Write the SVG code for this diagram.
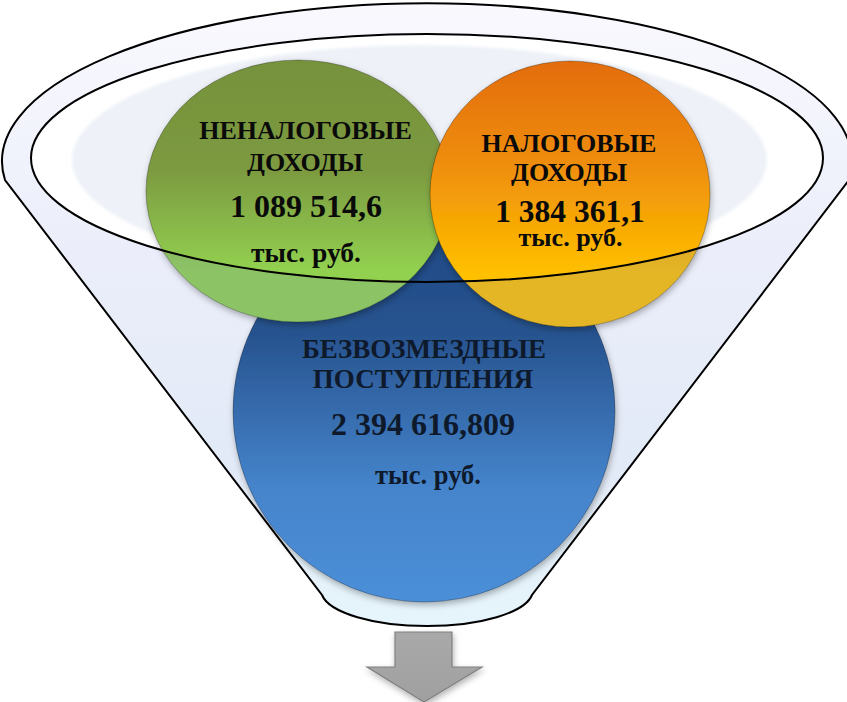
<svg xmlns="http://www.w3.org/2000/svg" width="847" height="702" viewBox="0 0 847 702">
  <style>
    .lbl { font-family: "Liberation Serif", "Times New Roman", serif; font-weight: bold; text-anchor: middle; fill: #0a0a0a; }
    .blbl { fill: #0e1a2b; }
    .rim { fill: none; stroke: #000; stroke-width: 2; }
    .circ { stroke: rgba(0,0,0,0.28); stroke-width: 1; }
  </style>
  <defs>
    <linearGradient id="gFunnel" x1="0" y1="0" x2="0" y2="1">
      <stop offset="0" stop-color="#f9f9fe"/>
      <stop offset="0.4" stop-color="#ebeefa"/>
      <stop offset="0.75" stop-color="#e2eaf7"/>
      <stop offset="1" stop-color="#e6f5fc"/>
    </linearGradient>
    <linearGradient id="gGreen" x1="0" y1="0" x2="0" y2="1">
      <stop offset="0" stop-color="#76923c"/>
      <stop offset="0.42" stop-color="#7c9a40"/>
      <stop offset="0.8" stop-color="#92d050"/>
      <stop offset="1" stop-color="#92d050"/>
    </linearGradient>
    <linearGradient id="gOrange" x1="0" y1="0" x2="0" y2="1">
      <stop offset="0" stop-color="#e36c0a"/>
      <stop offset="0.4" stop-color="#ef8f0b"/>
      <stop offset="0.8" stop-color="#ffc000"/>
      <stop offset="1" stop-color="#ffc000"/>
    </linearGradient>
    <linearGradient id="gBlue" x1="0" y1="0" x2="0" y2="1">
      <stop offset="0" stop-color="#1f4a85"/>
      <stop offset="0.3" stop-color="#27538f"/>
      <stop offset="0.7" stop-color="#4584cb"/>
      <stop offset="1" stop-color="#4b8fd8"/>
    </linearGradient>
    <linearGradient id="gArrow" x1="0" y1="0" x2="0" y2="1">
      <stop offset="0" stop-color="#a9a9a9"/>
      <stop offset="1" stop-color="#a0a0a0"/>
    </linearGradient>
    <filter id="shadow" x="-10%" y="-10%" width="120%" height="125%">
      <feDropShadow dx="1" dy="3" stdDeviation="3" flood-color="#000" flood-opacity="0.3"/>
    </filter>
    <filter id="soft" x="-5%" y="-5%" width="110%" height="110%">
      <feGaussianBlur stdDeviation="1.5"/>
    </filter>
    <clipPath id="clipTop">
      <ellipse cx="298" cy="191" rx="152" ry="131"/>
      <ellipse cx="570" cy="194" rx="140" ry="133"/>
    </clipPath>
  </defs>

  <g id="funnel">
    <path d="M 5,180 A 425 158 0 1 1 849,180 L 532,595 A 106 36 0 0 1 322,595 Z" fill="url(#gFunnel)" stroke="#000" stroke-width="2"/>
    <ellipse cx="427" cy="158" rx="396" ry="124" fill="#ffffff"/>
    <ellipse cx="419.5" cy="160" rx="347.5" ry="115" fill="#eef2f8" filter="url(#soft)"/>
  </g>

  <g id="grants">
    <circle cx="424" cy="411" r="191" fill="url(#gBlue)" class="circ" filter="url(#shadow)"/>
    <text class="lbl blbl" x="424" y="358" font-size="27">БЕЗВОЗМЕЗДНЫЕ</text>
    <text class="lbl blbl" x="423" y="388" font-size="27">ПОСТУПЛЕНИЯ</text>
    <text class="lbl blbl" x="423" y="435" font-size="32">2 394 616,809</text>
    <text class="lbl blbl" x="428" y="484" font-size="26.5">тыс. руб.</text>
  </g>

  <g id="nontax">
    <ellipse cx="298" cy="191" rx="152" ry="131" fill="url(#gGreen)" class="circ" filter="url(#shadow)"/>
    <text class="lbl" x="305.5" y="139" font-size="26">НЕНАЛОГОВЫЕ</text>
    <text class="lbl" x="305" y="171" font-size="26">ДОХОДЫ</text>
    <text class="lbl" x="306" y="217" font-size="32">1 089 514,6</text>
    <text class="lbl" x="306" y="262" font-size="27.5">тыс. руб.</text>
  </g>

  <g id="tax">
    <ellipse cx="570" cy="194" rx="140" ry="133" fill="url(#gOrange)" class="circ" filter="url(#shadow)"/>
    <text class="lbl" x="569" y="152" font-size="26">НАЛОГОВЫЕ</text>
    <text class="lbl" x="569" y="181" font-size="26">ДОХОДЫ</text>
    <text class="lbl" x="570" y="221.5" font-size="31.5">1 384 361,1</text>
    <text class="lbl" x="570.5" y="245.5" font-size="26">тыс. руб.</text>
  </g>

  <g id="rim">
    <path d="M 0,0 H 847 V 702 H 0 Z M 31,158 A 396 124 0 1 0 823,158 A 396 124 0 1 0 31,158 Z" fill="#7a8fbf" fill-opacity="0.2" fill-rule="evenodd" clip-path="url(#clipTop)"/>
    <ellipse cx="427" cy="158" rx="396" ry="124" class="rim"/>
  </g>

  <g id="connectors">
    <path id="arrow" d="M 395,632 H 452 V 667 H 482 L 424,702 L 367,667 H 395 Z" fill="url(#gArrow)" stroke="#808080" stroke-width="1.2" filter="url(#shadow)"/>
  </g>
</svg>
